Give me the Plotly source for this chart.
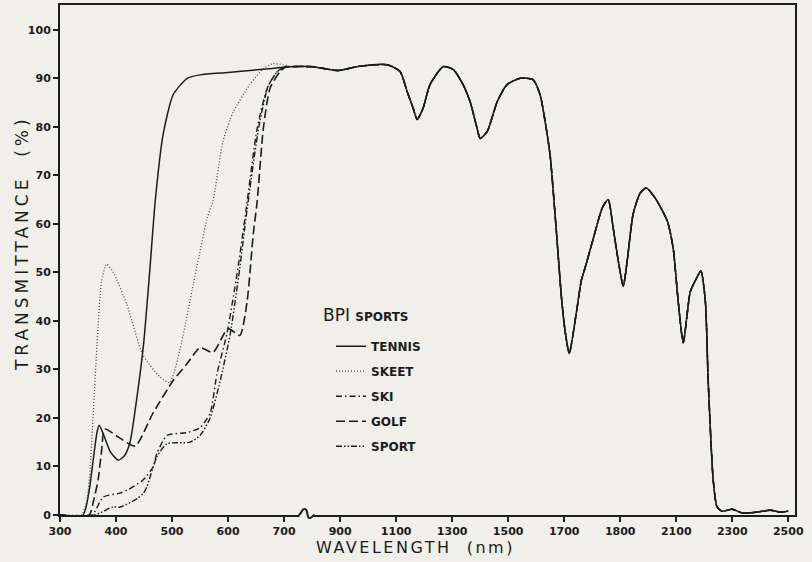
import plotly.graph_objects as go

# ---------------- data ----------------
tick_wl = [300, 400, 500, 600, 700, 900, 1100, 1300, 1500, 1700, 1900, 2100, 2300, 2500]
tick_text = ["300", "400", "500", "600", "700", "900", "1100", "1300", "1500",
             "1700", "1800", "2100", "2300", "2500"]
y_ticks = [0, 10, 20, 30, 40, 50, 60, 70, 80, 90, 100]

# common near-IR part (all five lenses nearly coincide here)
ir_wl = [720, 800, 893, 961, 1068, 1114, 1139, 1161, 1175, 1196, 1221, 1268, 1304, 1339,
         1364, 1389, 1400, 1425, 1461, 1496, 1543, 1589, 1614, 1635, 1650, 1670, 1690,
         1703, 1718, 1743, 1761, 1775, 1804, 1836, 1857, 1875, 1893, 1911, 1925, 1946,
         1971, 1993, 2025, 2068, 2089, 2107, 2125, 2150, 2168, 2188, 2204, 2214, 2232,
         2246, 2264, 2300, 2336, 2389, 2436, 2471, 2500]
ir_t = [92.4, 92.4, 91.6, 92.4, 92.8, 91.4, 87.3, 83.8, 81.5, 83.8, 88.7, 92.4, 91.8, 88.7,
        85.2, 79.7, 77.6, 79.0, 85.2, 88.7, 90.0, 89.7, 86.6, 80.0, 74.0, 60.0, 45.0,
        38.0, 33.3, 41.5, 48.3, 51.0, 57.0, 63.3, 65.0, 59.1, 52.4, 47.2, 52.4, 62.0,
        66.3, 67.4, 65.3, 60.6, 55.0, 44.0, 35.5, 46.0, 48.3, 50.3, 44.0, 27.7, 7.2,
        1.6, 0.8, 1.2, 0.4, 0.6, 1.0, 0.6, 0.8]

tennis_wl = [300, 341, 352, 360, 366, 370, 378, 390, 404, 415, 425, 437, 449, 460, 470,
             484, 502, 527, 550, 600, 657, 705]
tennis_t = [0, 0, 5, 12, 17, 18.5, 16.5, 13, 11.3, 12.2, 15, 24, 35, 50, 64.7,
            78.4, 86.6, 90, 90.7, 91.2, 91.8, 92.3]

skeet_wl = [300, 338, 348, 354, 358, 366, 374, 383, 395, 419, 448, 479, 496, 514, 538,
            563, 573, 591, 609, 639, 663, 680, 698]
skeet_t = [0, 0, 3, 10, 18, 35, 48, 51.7, 50, 43.5, 33, 28.4, 27.3, 34, 47.6,
           61.3, 64.7, 77, 83, 88.7, 92, 93, 92.8]

ski_wl = [300, 357, 377, 407, 420, 448, 466, 473, 491, 527, 550, 568, 580, 598, 616,
          630, 652, 670, 688, 708]
ski_t = [0, 0, 3.7, 4.5, 5.1, 7.2, 9.9, 12.7, 16.4, 17, 18, 21, 29, 37.4, 49.7,
         61, 79.7, 88, 91.4, 92.4]

golf_wl = [300, 352, 360, 368, 374, 380, 405, 434, 466, 502, 527, 550, 573, 600, 621,
           634, 645, 652, 663, 675, 693, 708]
golf_t = [0, 0, 3, 7.2, 13, 17.7, 16, 14.2, 21, 27.7, 31.2, 34.5, 33.5, 38.4, 37,
          44, 57.9, 64.7, 79.7, 88, 91.4, 92.4]

sport_wl = [300, 362, 395, 407, 438, 449, 455, 473, 491, 532, 550, 568, 586, 604, 621,
            634, 655, 672, 690, 712]
sport_t = [0, 0, 1.7, 1.6, 3.4, 4.5, 5.8, 12, 14.7, 15, 16.4, 20, 27.7, 37.4, 51,
           63, 80, 88.5, 91.6, 92.4]

names = ["TENNIS", "SKEET", "SKI", "GOLF", "SPORT"]


# broken wavelength axis: 100 nm per unit up to 700 nm, 200 nm per unit beyond
def pos(w):
    return (w - 300) / 100.0 if w <= 700 else 4 + (w - 700) / 200.0


BG = "#f0efe9"
INK = "#1c1c1c"

series = [
    (tennis_wl, tennis_t, dict(color=INK, width=1.5, dash="solid")),
    (skeet_wl, skeet_t, dict(color="#4a4a4a", width=1.3, dash="1px,2px")),
    (ski_wl, ski_t, dict(color=INK, width=1.4, dash="6px,3px,1.5px,3px")),
    (golf_wl, golf_t, dict(color=INK, width=1.6, dash="9px,4px")),
    (sport_wl, sport_t, dict(color=INK, width=1.4, dash="6px,2px,1.5px,2px,1.5px,2px")),
]

fig = go.Figure()
for name, (wl, t, ln) in zip(names, series):
    full_wl = wl + ir_wl
    full_t = t + ir_t
    fig.add_trace(go.Scatter(
        x=[pos(w) for w in full_wl], y=full_t, mode="lines", name=name,
        line=dict(shape="spline", smoothing=0.6, **ln),
        legendgroup=name, hoverinfo="skip", cliponaxis=True,
    ))

# plot-area geometry (pixels)
L, R, T, B = 60, 17, 3, 47
W, H = 812, 562
pw, ph = W - L - R, H - T - B
XMAX = 13.12
YMAX = 105.1


def px(xp):
    return (xp - L) / pw


def py(yp):
    return (H - B - yp) / ph


# axis-break squiggle on the wavelength axis
sx = L + pos(780) * pw / XMAX
shapes = [
    dict(type="rect", xref="paper", yref="paper", x0=px(sx - 7), x1=px(sx + 7),
         y0=py(515 + 3), y1=py(515 - 3), fillcolor=BG, line=dict(width=0), layer="above"),
    dict(type="path", xref="paper", yref="paper", layer="above",
         path=(f"M {px(sx-8)},{py(515)} C {px(sx-5)},{py(515)} {px(sx-5)},{py(508)} "
               f"{px(sx-1.5)},{py(509)} S {px(sx)},{py(519)} {px(sx+3.5)},{py(518)} "
               f"S {px(sx+6)},{py(515)} {px(sx+8)},{py(515)}"),
         line=dict(color=INK, width=2)),
]

annotations = [
    dict(text="<span style='letter-spacing:2.5px'>WAVELENGTH  (nm)</span>",
         xref="paper", yref="paper", x=px(415), y=py(548),
         xanchor="center", yanchor="middle", showarrow=False, borderpad=0,
         font=dict(family="DejaVu Sans", size=16, color=INK)),
    dict(text="<span style='letter-spacing:4px'>TRANSMITTANCE  (%)</span>",
         xref="paper", yref="paper", x=px(22), y=py(242),
         xanchor="center", yanchor="middle", showarrow=False, textangle=-90,
         font=dict(family="DejaVu Sans", size=17, color=INK)),
    dict(text="BPI <span style='font-size:12px;font-weight:bold'>SPORTS</span>",
         xref="paper", yref="paper", x=px(321), y=py(314),
         xanchor="left", yanchor="middle", showarrow=False,
         font=dict(family="DejaVu Sans", size=17, color=INK)),
]

axis_common = dict(showline=True, linecolor=INK, linewidth=2, mirror=True,
                   showgrid=False, zeroline=False, ticks="outside", ticklen=5,
                   tickwidth=1.5, tickcolor=INK,
                   tickfont=dict(family="DejaVu Sans", size=11, color=INK, weight="bold"))

fig.update_layout(
    width=W, height=H,
    margin=dict(l=L, r=R, t=T, b=B, pad=0),
    paper_bgcolor=BG, plot_bgcolor=BG,
    xaxis=dict(range=[0, XMAX], tickmode="array",
               tickvals=[pos(w) for w in tick_wl], ticktext=tick_text, **axis_common),
    yaxis=dict(range=[0, YMAX], tickmode="array", tickvals=y_ticks,
               ticktext=[str(v) for v in y_ticks], **axis_common),
    showlegend=True,
    legend=dict(x=px(331), y=py(331), xanchor="left", yanchor="top",
                bgcolor="rgba(0,0,0,0)", borderwidth=0, itemwidth=30,
                tracegroupgap=6,
                font=dict(family="DejaVu Sans", size=12, color=INK, weight="bold")),
    shapes=shapes, annotations=annotations,
)

fig.write_html("out.html",
               config={"displayModeBar": False},
               post_script="document.body.style.margin='0';"
                           "document.body.style.overflow='hidden';"
                           f"document.body.style.background='{BG}';")
